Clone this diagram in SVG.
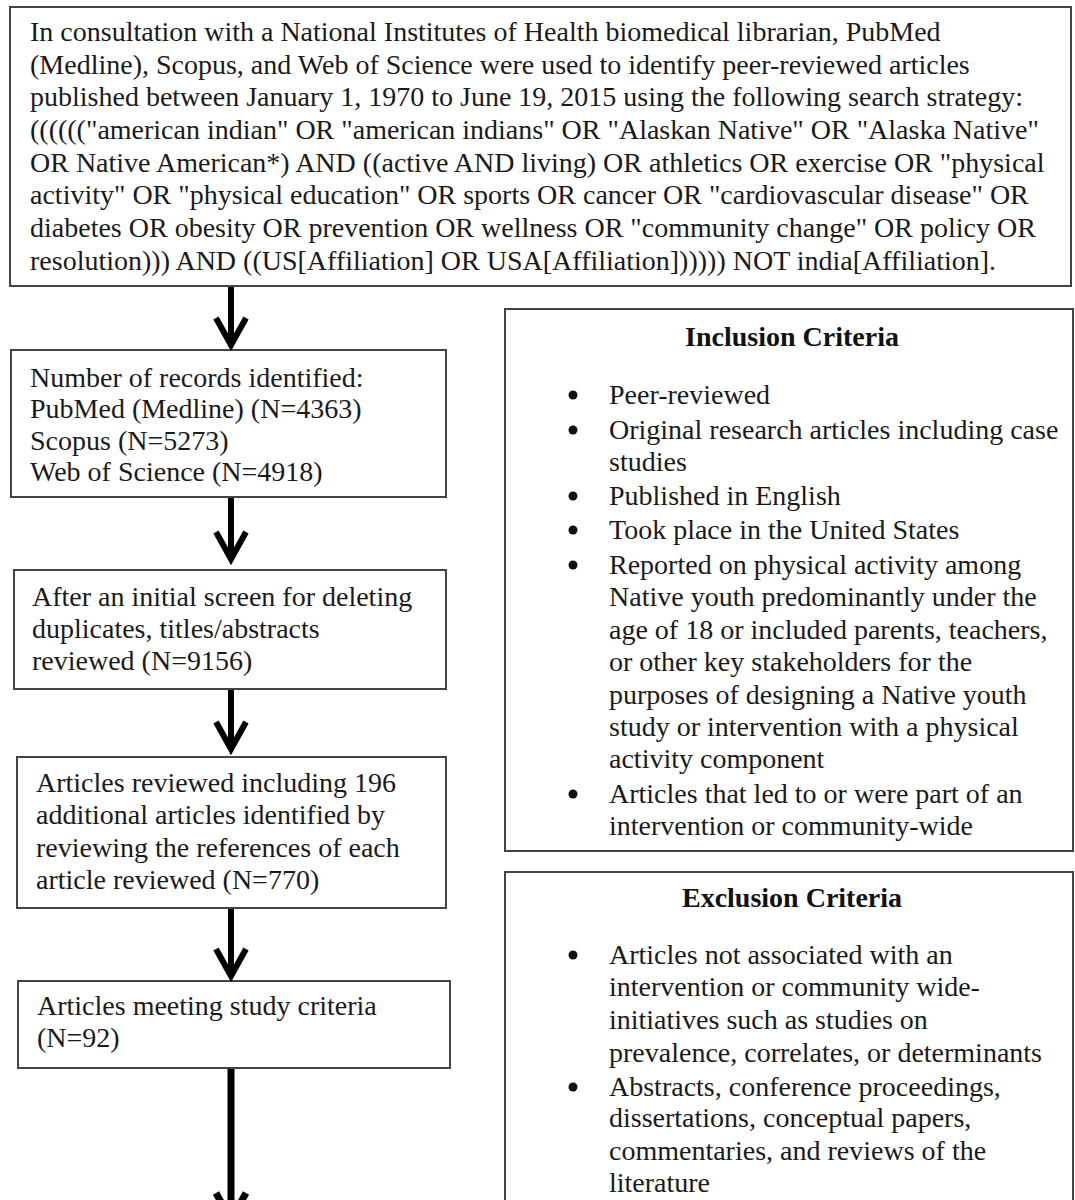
<svg xmlns="http://www.w3.org/2000/svg" width="1075" height="1200" viewBox="0 0 1075 1200">
<style>
.box{fill:#fff;stroke:#444;stroke-width:2}
.t{font-family:"Liberation Serif","Times New Roman",serif;font-size:28px;fill:#1a1a1a}
.h{font-family:"Liberation Serif","Times New Roman",serif;font-size:28px;font-weight:bold;fill:#111;text-anchor:middle}
.dot{fill:#111}
.arr{fill:none;stroke:#000;stroke-width:6;stroke-linejoin:miter;stroke-miterlimit:10}
</style>
<rect width="1075" height="1200" fill="#fff"/>
<g id="search">
<rect class="box" x="10" y="7" width="1061" height="279"/>
<text class="t" x="30" y="41">In consultation with a National Institutes of Health biomedical librarian, PubMed</text>
<text class="t" x="30" y="74">(Medline), Scopus, and Web of Science were used to identify peer-reviewed articles</text>
<text class="t" x="30" y="106">published between January 1, 1970 to June 19, 2015 using the following search strategy:</text>
<text class="t" x="30" y="139">(((((("american indian" OR "american indians" OR "Alaskan Native" OR "Alaska Native"</text>
<text class="t" x="30" y="172">OR Native American*) AND ((active AND living) OR athletics OR exercise OR "physical</text>
<text class="t" x="30" y="204">activity" OR "physical education" OR sports OR cancer OR "cardiovascular disease" OR</text>
<text class="t" x="30" y="237">diabetes OR obesity OR prevention OR wellness OR "community change" OR policy OR</text>
<text class="t" x="30" y="270">resolution))) AND ((US[Affiliation] OR USA[Affiliation]))))) NOT india[Affiliation].</text>
</g>
<g id="records">
<rect class="box" x="11" y="350" width="435" height="147"/>
<text class="t" x="30" y="387">Number of records identified:</text>
<text class="t" x="30" y="418">PubMed (Medline) (N=4363)</text>
<text class="t" x="30" y="450">Scopus (N=5273)</text>
<text class="t" x="30" y="481">Web of Science (N=4918)</text>
</g>
<g id="screen">
<rect class="box" x="14" y="570" width="432" height="119"/>
<text class="t" x="32" y="606">After an initial screen for deleting</text>
<text class="t" x="32" y="638">duplicates, titles/abstracts</text>
<text class="t" x="32" y="670">reviewed (N=9156)</text>
</g>
<g id="reviewed">
<rect class="box" x="17" y="757" width="429" height="151"/>
<text class="t" x="36" y="792">Articles reviewed including 196</text>
<text class="t" x="36" y="824">additional articles identified by</text>
<text class="t" x="36" y="857">reviewing the references of each</text>
<text class="t" x="36" y="889">article reviewed (N=770)</text>
</g>
<g id="meeting">
<rect class="box" x="18" y="981" width="432" height="87"/>
<text class="t" x="37" y="1015">Articles meeting study criteria</text>
<text class="t" x="37" y="1047">(N=92)</text>
</g>
<g id="inclusion">
<rect class="box" x="505" y="309" width="568" height="542"/>
<text class="h" x="792" y="346">Inclusion Criteria</text>
<circle class="dot" cx="573" cy="395" r="4.5"/>
<text class="t" x="609" y="404">Peer-reviewed</text>
<circle class="dot" cx="573" cy="430" r="4.5"/>
<text class="t" x="609" y="439">Original research articles including case</text>
<text class="t" x="609" y="471">studies</text>
<circle class="dot" cx="573" cy="496" r="4.5"/>
<text class="t" x="609" y="505">Published in English</text>
<circle class="dot" cx="573" cy="530" r="4.5"/>
<text class="t" x="609" y="539">Took place in the United States</text>
<circle class="dot" cx="573" cy="565" r="4.5"/>
<text class="t" x="609" y="574">Reported on physical activity among</text>
<text class="t" x="609" y="606">Native youth predominantly under the</text>
<text class="t" x="609" y="639">age of 18 or included parents, teachers,</text>
<text class="t" x="609" y="671">or other key stakeholders for the</text>
<text class="t" x="609" y="704">purposes of designing a Native youth</text>
<text class="t" x="609" y="736">study or intervention with a physical</text>
<text class="t" x="609" y="768">activity component</text>
<circle class="dot" cx="573" cy="794" r="4.5"/>
<text class="t" x="609" y="803">Articles that led to or were part of an</text>
<text class="t" x="609" y="835">intervention or community-wide</text>
</g>
<g id="exclusion">
<rect class="box" x="505" y="872" width="568" height="340"/>
<text class="h" x="792" y="907">Exclusion Criteria</text>
<circle class="dot" cx="573" cy="955" r="4.5"/>
<text class="t" x="609" y="964">Articles not associated with an</text>
<text class="t" x="609" y="996">intervention or community wide-</text>
<text class="t" x="609" y="1029">initiatives such as studies on</text>
<text class="t" x="609" y="1062">prevalence, correlates, or determinants</text>
<circle class="dot" cx="573" cy="1087" r="4.5"/>
<text class="t" x="609" y="1096">Abstracts, conference proceedings,</text>
<text class="t" x="609" y="1127">dissertations, conceptual papers,</text>
<text class="t" x="609" y="1160">commentaries, and reviews of the</text>
<text class="t" x="609" y="1192">literature</text>
</g>
<g id="connectors">
<path class="arr" d="M231,287 V342 M216,318 L231,345 L246,318"/>
<path class="arr" d="M231,498 V556 M216,532 L231,559 L246,532"/>
<path class="arr" d="M231,690 V746 M216,722 L231,749 L246,722"/>
<path class="arr" d="M231,909 V973 M216,949 L231,976 L246,949"/>
<path class="arr" d="M231,1069 V1215 M216,1193 L231,1220 L246,1193" style="stroke-width:7"/>
</g>
</svg>
